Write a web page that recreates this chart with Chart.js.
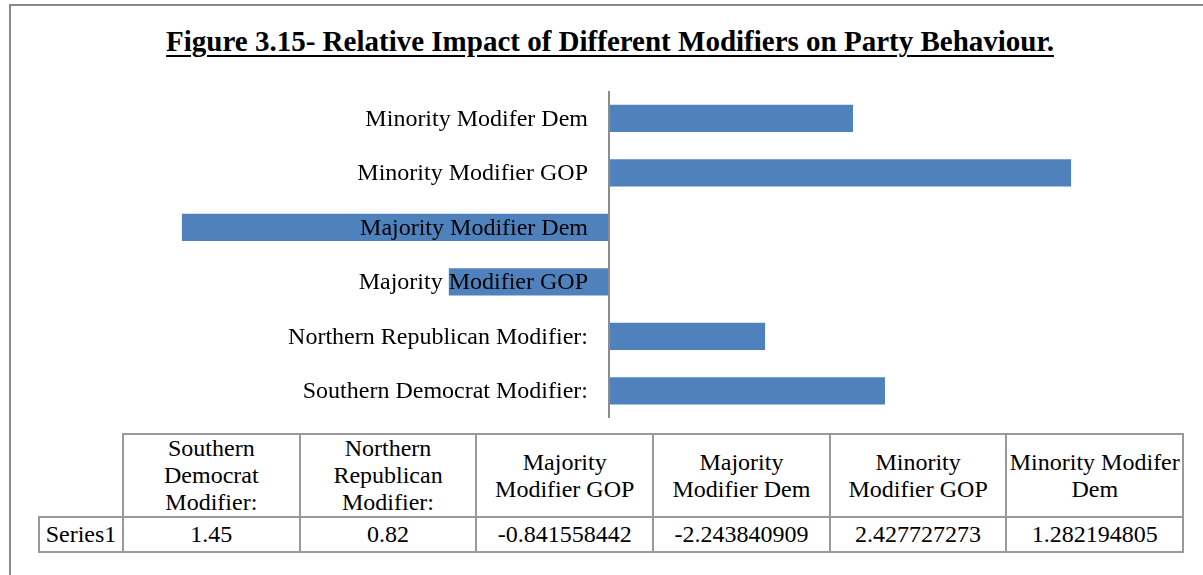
<!DOCTYPE html>
<html>
<head>
<meta charset="utf-8">
<script src="https://cdn.jsdelivr.net/npm/chart.js@4/dist/chart.umd.min.js"></script>
<style>
  html, body { margin: 0; padding: 0; background: #fff; }
  body { width: 1203px; height: 575px; position: relative; overflow: hidden; font-family: "Liberation Serif", "DejaVu Serif", serif; }
  #frame { position: absolute; left: 9px; top: 4px; width: 1400px; height: 800px; border-left: 2px solid #888; border-top: 2px solid #888; }
  #title { position: absolute; left: 0; width: 1220px; top: 25px; text-align: center; font-size: 29px; font-weight: bold; text-decoration: underline; text-decoration-thickness: 2px; text-underline-offset: 4px; color: #000; }
  #wrap { position: absolute; left: 38px; top: 91px; width: 1142px; height: 327px; }
  #tbl { position: absolute; left: 38px; top: 433px; border-collapse: collapse; font-size: 24px; color: #000; table-layout: fixed; }
  #tbl td { border: 2px solid #999; text-align: center; padding: 0 1px; line-height: 27px; white-space: nowrap; }
  #tbl tr.h td { height: 80px; }
  #tbl tr.v td { height: 33px; }
  #tbl td.blank { border-top: none; border-left: none; }
</style>
</head>
<body>
<div id="frame"></div>
<div id="title">Figure 3.15- Relative Impact of Different Modifiers on Party Behaviour.</div>
<div id="wrap"><canvas id="c"></canvas></div>
<table id="tbl"></table>
<script>
const categories = [
  "Southern Democrat Modifier:",
  "Northern Republican Modifier:",
  "Majority Modifier GOP",
  "Majority Modifier Dem",
  "Minority Modifier GOP",
  "Minority Modifer Dem"
];
const tableHeaders = [
  ["Southern", "Democrat", "Modifier:"],
  ["Northern", "Republican", "Modifier:"],
  ["Majority", "Modifier GOP"],
  ["Majority", "Modifier Dem"],
  ["Minority", "Modifier GOP"],
  ["Minority Modifer", "Dem"]
];
const seriesName = "Series1";
const values = [1.45, 0.82, -0.841558442, -2.243840909, 2.427727273, 1.282194805];
const valueText = ["1.45", "0.82", "-0.841558442", "-2.243840909", "2.427727273", "1.282194805"];

// data table
const tbl = document.getElementById('tbl');
let cg = '<colgroup><col style="width:84px">' + categories.map(() => '<col style="width:176.7px">').join('') + '</colgroup>';
let h = '<tr class="h"><td class="blank"></td>' + tableHeaders.map(lines => '<td>' + lines.join('<br>') + '</td>').join('') + '</tr>';
let v = '<tr class="v"><td>' + seriesName + '</td>' + valueText.map(t => '<td>' + t + '</td>').join('') + '</tr>';
tbl.innerHTML = cg + h + v;

const labelPlugin = {
  id: 'axisLabels',
  afterDatasetsDraw(chart) {
    const ctx = chart.ctx;
    const xs = chart.scales.x, ys = chart.scales.y;
    const x0 = xs.getPixelForValue(0);
    ctx.save();
    ctx.font = '24px "Liberation Serif", serif';
    ctx.fillStyle = '#000';
    ctx.textAlign = 'right';
    ctx.textBaseline = 'middle';
    categories.forEach((c, i) => {
      ctx.fillText(c, x0 - 21, ys.getPixelForValue(i) + 1);
    });
    ctx.restore();
  }
};

new Chart(document.getElementById('c'), {
  type: 'bar',
  data: {
    labels: categories,
    datasets: [{
      label: seriesName,
      data: values,
      backgroundColor: '#4F81BD',
      borderWidth: 0,
      barPercentage: 0.5,
      categoryPercentage: 1.0
    }]
  },
  options: {
    indexAxis: 'y',
    responsive: true,
    maintainAspectRatio: false,
    animation: false,
    layout: { padding: 0 },
    plugins: { legend: { display: false }, tooltip: { enabled: false }, title: { display: false } },
    scales: {
      x: {
        min: -3, max: 3,
        display: true,
        ticks: { display: false, stepSize: 1 },
        border: { display: false },
        grid: {
          drawTicks: false,
          lineWidth: 2,
          color: (ctx) => (ctx.tick && ctx.tick.value === 0) ? '#8c8c8c' : 'rgba(0,0,0,0)'
        },
        afterFit: (s) => { s.height = 0; }
      },
      y: {
        display: false,
        reverse: true
      }
    }
  },
  plugins: [labelPlugin]
});
</script>
</body>
</html>
